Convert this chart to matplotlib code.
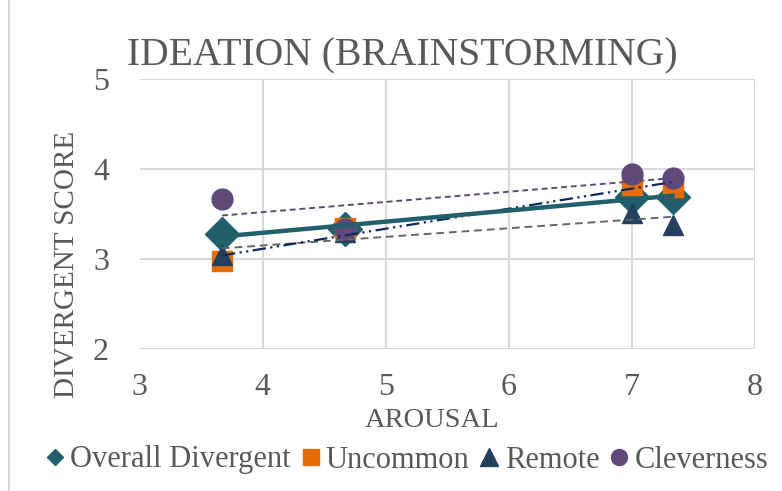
import matplotlib
matplotlib.use("Agg")
import matplotlib.pyplot as plt
import numpy as np
from matplotlib.lines import Line2D

arousal = [3.67, 4.67, 7.0, 7.33]
overall = [3.28, 3.33, 3.69, 3.69]
uncommon = [2.98, 3.34, 3.82, 3.80]
remote = [3.05, 3.30, 3.51, 3.38]
cleverness = [3.67, 3.33, 3.94, 3.90]

series_names = ["Overall Divergent", "Uncommon", "Remote", "Cleverness"]
title = "IDEATION (BRAINSTORMING)"
xlabel = "AROUSAL"
ylabel = "DIVERGENT SCORE"
xticks = [3, 4, 5, 6, 7, 8]
yticks = [2, 3, 4, 5]

plt.rcParams['font.family'] = ['Liberation Serif', 'DejaVu Serif']
txt = '#595959'

fig = plt.figure(figsize=(7.82, 4.91), dpi=100)
ax = fig.add_axes([139.5/782, 1-349/491, (755-139.5)/782, (349-79)/491])

styles = [
    dict(marker='D', color='#215F6B', ms=17, lw=3.2, ls='-', tcolor='#215F6B', lms=8.5),
    dict(marker='s', color='#E46C0A', ms=14, lw=1.6, ls=(0, (6, 2, 1, 2, 1, 2)), tcolor='#0E2A5C', lms=11.5),
    dict(marker='^', color='#243F60', ms=15, lw=1.4, ls=(0, (4, 2.5)), tcolor='#666666', lms=12.5),
    dict(marker='o', color='#5F497A', ms=15, lw=1.4, ls=(0, (3, 2)), tcolor='#5F497A', lms=11.5),
]
data = [overall, uncommon, remote, cleverness]
x = np.array(arousal)

for i in [0, 1, 2, 3]:
    st = styles[i]
    ax.plot(x, data[i], ls='none', marker=st['marker'], ms=st['ms'],
            color=st['color'], mec=st['color'], zorder=3 + 0.1 * i)

xl = np.array([x.min(), x.max()])
for i in [2, 1, 3, 0]:
    st = styles[i]
    m, b = np.polyfit(x, data[i], 1)
    ax.plot(xl, m * xl + b, ls=st['ls'], color=st['tcolor'], lw=st['lw'], zorder=5)

ax.set_xlim(3, 8)
ax.set_ylim(2, 5)
ax.set_xticks(xticks)
ax.set_yticks(yticks)
ax.grid(True, color='#D9D9D9', lw=1.5)
ax.set_axisbelow(True)
for s in ax.spines.values():
    s.set_visible(False)
ax.tick_params(length=0, labelsize=23, labelcolor=txt)
ax.tick_params(axis='y', pad=22)
ax.tick_params(axis='x', pad=17)
ax.set_xticklabels([str(t) for t in xticks])
ax.set_yticklabels([str(t) for t in yticks])

fig.text(402/782, 1-65/491, title, ha='center', va='baseline', fontsize=28.5,
         color=txt)
fig.text(432/782, 1-427/491, xlabel, ha='center', va='baseline', fontsize=20.5, color=txt)
fig.text(80/782, 1-264/491, ylabel, ha='right', va='center', fontsize=21,
         color=txt, rotation=90)

handles = [Line2D([], [], ls='none', marker=st['marker'], color=st['color'],
                  ms=st['lms']) for st in styles]
leg = fig.legend(handles, series_names, loc='center', bbox_to_anchor=(407/782, 1-460/491),
                 ncol=4, frameon=False, fontsize=22, handlelength=0.6,
                 handletextpad=0.2, columnspacing=0.35, labelcolor=txt)

fig.add_artist(Line2D([9/782, 9/782], [0, 1], color='#D9D9D9', lw=1.5))

fig.savefig('out.png', dpi=100)
